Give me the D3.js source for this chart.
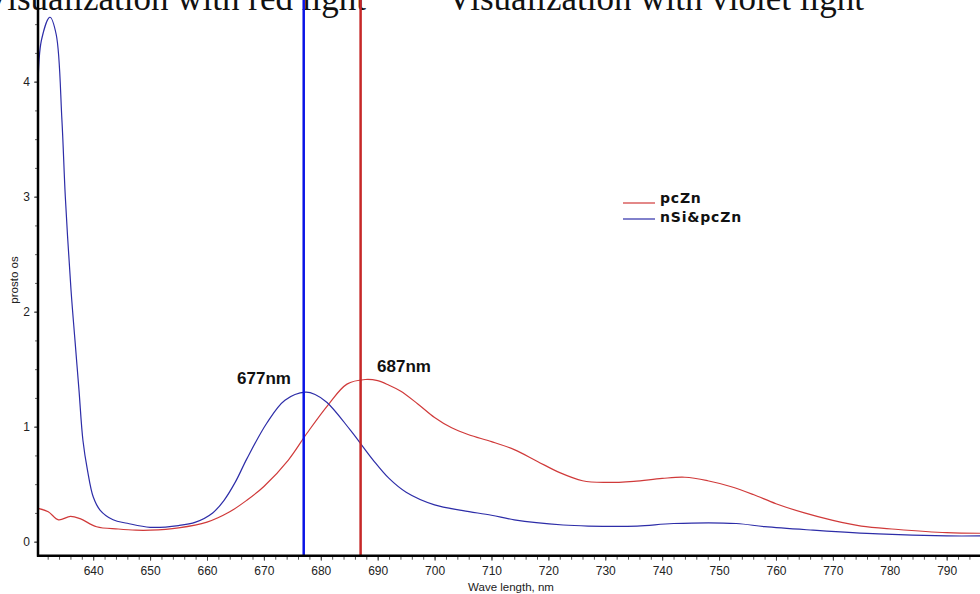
<!DOCTYPE html>
<html lang="en">
<head>
  <meta charset="UTF-8">
  <title>Wave length spectra</title>
  <script src="https://d3js.org/d3.v7.min.js"></script>
  <style>
    body { margin: 0; background: #fff; }
    svg { display: block; }
    .tick text { font-family: "Liberation Sans", Arial, sans-serif; font-size: 12px; fill: #222; }
  </style>
</head>
<body>
  <svg id="chart" width="980" height="594"></svg>
  <script>
    // pcZn (red) spectrum
    const redWave = [630.3, 632.1, 633.9, 636.0, 637.7, 640.6, 644.4, 647.5, 650, 655, 660, 664, 667, 670, 674.3, 677.6, 681.3, 684.6, 687.8, 690, 692, 694, 697, 700, 703, 706, 710, 714, 718, 722, 726, 730, 735, 740, 744, 748, 752, 756, 760, 765, 770, 775, 781, 790, 796];
    const redVal  = [0.29, 0.26, 0.19, 0.22, 0.20, 0.13, 0.11, 0.10, 0.10, 0.12, 0.17, 0.26, 0.36, 0.48, 0.71, 0.945, 1.19, 1.37, 1.41, 1.40, 1.36, 1.31, 1.20, 1.08, 0.99, 0.93, 0.87, 0.80, 0.70, 0.60, 0.53, 0.515, 0.525, 0.55, 0.56, 0.53, 0.48, 0.41, 0.33, 0.25, 0.185, 0.135, 0.108, 0.078, 0.073];

    // nSi&pcZn (blue) spectrum
    const blueWave = [630.3, 630.9, 632.4, 633.5, 634.5, 635.1, 636.1, 636.8, 637.5, 638.2, 639.0, 640.0, 641.2, 643.5, 646.0, 650, 655, 658, 661, 663, 665, 667, 670.5, 673.7, 677.3, 679, 681.1, 685.2, 689.2, 692, 695, 700, 705, 710, 714, 722.6, 727, 735.6, 742, 753, 758, 766.5, 778, 790, 796];
    const blueVal  = [3.94, 4.36, 4.56, 4.41, 3.67, 3.0, 2.19, 1.75, 1.32, 0.88, 0.62, 0.39, 0.275, 0.19, 0.16, 0.125, 0.14, 0.17, 0.25, 0.36, 0.52, 0.72, 1.03, 1.23, 1.30, 1.28, 1.21, 0.97, 0.71, 0.55, 0.43, 0.32, 0.27, 0.23, 0.19, 0.145, 0.136, 0.136, 0.158, 0.158, 0.13, 0.10, 0.067, 0.05, 0.05];

    const xTicks = d3.range(640, 791, 10);
    const yTicks = [0, 1, 2, 3, 4];
    const peaks = [
      { wave: 677, label: "677nm", color: "#0a14e6", lx: 264, ly: 384 },
      { wave: 687, label: "687nm", color: "#c62828", lx: 404, ly: 372 }
    ];
    const titles = ["Visualization with red light", "Visualization with violet light"];

    const svg = d3.select("#chart");
    const left = 38, bottom = 555.7;

    const x = d3.scaleLinear().domain([630.3, 796]).range([left, 980.8]);
    const y = d3.scaleLinear().domain([-0.122, 4.71]).range([bottom, 0]);

    svg.append("defs").append("clipPath").attr("id", "plot")
      .append("rect").attr("x", left).attr("y", 0).attr("width", 980 - left).attr("height", bottom);

    // titles across the top (cut by the top edge, as in the picture)
    svg.selectAll(".title")
      .data(titles)
      .enter().append("text")
      .attr("class", "title")
      .attr("x", (d, i) => i === 0 ? -16 : 447)
      .attr("y", 10)
      .style("font-family", "'Liberation Serif', 'Times New Roman', serif")
      .style("font-size", "35px")
      .style("fill", "#111")
      .text(d => d);

    // minor ticks
    const minorX = d3.range(632, 796, 2);
    const minorY = d3.range(0, 4.76, 0.25);

    const xAxis = svg.append("g")
      .attr("transform", `translate(0,${bottom})`)
      .call(d3.axisBottom(x).tickValues(minorX).tickSize(4).tickFormat(""));
    xAxis.select(".domain").remove();
    xAxis.selectAll("line").attr("stroke", "#555");

    const xLab = svg.append("g")
      .attr("transform", `translate(0,${bottom})`)
      .call(d3.axisBottom(x).tickValues(xTicks).tickSize(5).tickPadding(6).tickFormat(d3.format("d")));
    xLab.select(".domain").remove();
    xLab.selectAll("line").attr("stroke", "#444");

    const yAxis = svg.append("g")
      .attr("transform", `translate(${left},0)`)
      .call(d3.axisLeft(y).tickValues(minorY).tickSize(3).tickFormat(""));
    yAxis.select(".domain").remove();
    yAxis.selectAll("line").attr("stroke", "#666");

    const yLab = svg.append("g")
      .attr("transform", `translate(${left},0)`)
      .call(d3.axisLeft(y).tickValues(yTicks).tickSize(4).tickPadding(4).tickFormat(d3.format("d")));
    yLab.select(".domain").remove();
    yLab.selectAll("line").attr("stroke", "#444");

    // curves
    const line = d3.line()
      .x(d => x(d[0]))
      .y(d => y(d[1]))
      .curve(d3.curveCatmullRom.alpha(0.5));

    const plot = svg.append("g").attr("clip-path", "url(#plot)");

    plot.append("path")
      .datum(d3.zip(redWave, redVal))
      .attr("d", line)
      .attr("fill", "none")
      .attr("stroke", "#d03a3a")
      .attr("stroke-width", 1.2);

    plot.append("path")
      .datum(d3.zip(blueWave, blueVal))
      .attr("d", line)
      .attr("fill", "none")
      .attr("stroke", "#2d2da8")
      .attr("stroke-width", 1.2);

    // peak markers
    svg.selectAll(".peak")
      .data(peaks)
      .enter().append("line")
      .attr("x1", d => x(d.wave))
      .attr("x2", d => x(d.wave))
      .attr("y1", 0)
      .attr("y2", bottom)
      .attr("stroke", d => d.color)
      .attr("stroke-width", 2.5);

    svg.selectAll(".peaklabel")
      .data(peaks)
      .enter().append("text")
      .attr("x", d => d.lx)
      .attr("y", d => d.ly)
      .attr("text-anchor", "middle")
      .style("font-family", "'Liberation Sans', Arial, sans-serif")
      .style("font-size", "17px")
      .style("font-weight", "bold")
      .style("fill", "#111")
      .text(d => d.label);

    // axis lines
    svg.append("line")
      .attr("x1", left).attr("x2", left).attr("y1", 0).attr("y2", bottom + 1)
      .attr("stroke", "#000").attr("stroke-width", 2.5);
    svg.append("line")
      .attr("x1", left - 1).attr("x2", 980).attr("y1", bottom).attr("y2", bottom)
      .attr("stroke", "#000").attr("stroke-width", 2.5);

    // axis titles
    svg.append("text")
      .attr("x", 511).attr("y", 591)
      .attr("text-anchor", "middle")
      .style("font-family", "'Liberation Sans', Arial, sans-serif")
      .style("font-size", "11.5px")
      .style("fill", "#222")
      .text("Wave length, nm");

    svg.append("text")
      .attr("transform", "translate(18,280) rotate(-90)")
      .attr("text-anchor", "middle")
      .style("font-family", "'Liberation Sans', Arial, sans-serif")
      .style("font-size", "11.5px")
      .style("fill", "#222")
      .text("prosto os");

    // legend
    const legend = [
      { name: "pcZn", color: "#d03a3a", ly: 203, ty: 203 },
      { name: "nSi&pcZn", color: "#2d2da8", ly: 219, ty: 222 }
    ];
    const lg = svg.append("g").attr("transform", "translate(623,0)");
    lg.selectAll("line")
      .data(legend)
      .enter().append("line")
      .attr("x1", 0).attr("x2", 32)
      .attr("y1", d => d.ly).attr("y2", d => d.ly)
      .attr("stroke", d => d.color)
      .attr("stroke-width", 1.2);
    lg.selectAll("text")
      .data(legend)
      .enter().append("text")
      .attr("x", 37)
      .attr("y", d => d.ty)
      .style("font-family", "'DejaVu Sans', Verdana, sans-serif")
      .style("font-size", "14px")
      .style("font-weight", "bold")
      .style("letter-spacing", "0.8px")
      .style("fill", "#111")
      .text(d => d.name);
  </script>
</body>
</html>
